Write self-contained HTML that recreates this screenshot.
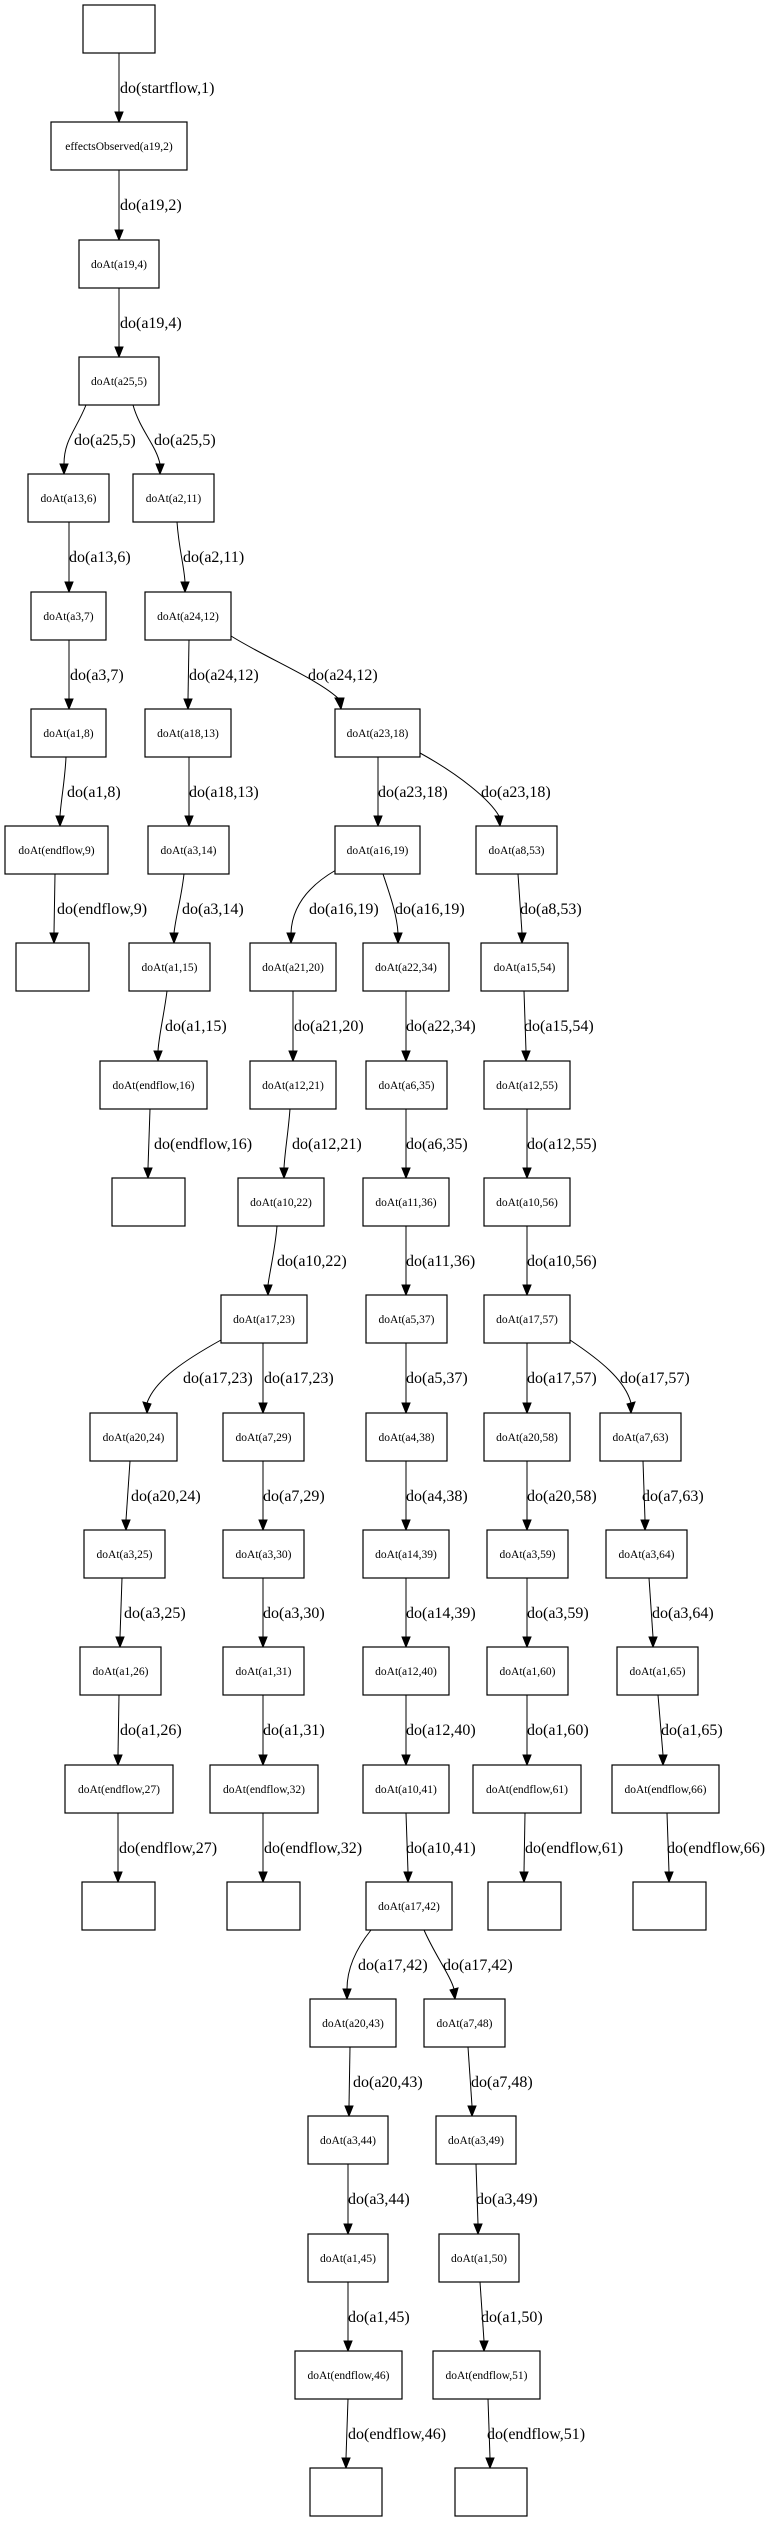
<!DOCTYPE html>
<html><head><meta charset="utf-8"><style>
html,body{margin:0;padding:0;background:#fff;}
svg{display:block;}
.n rect{fill:#fff;stroke:#000;stroke-width:1.2;}
.n text{font-family:"Liberation Serif",serif;font-size:11.5px;text-anchor:middle;fill:#000;}
.e path{fill:none;stroke:#000;stroke-width:1;}
.e polygon{fill:#000;stroke:#000;}
.l text{font-family:"Liberation Serif",serif;font-size:16px;fill:#000;}
</style></head><body>
<svg width="778" height="2522" viewBox="0 0 778 2522" xmlns="http://www.w3.org/2000/svg">
<g class="e">
<path d="M119 53 L119 112"/><polygon points="115,112 123,112 119,122"/>
<path d="M119 170 L119 230"/><polygon points="115,230 123,230 119,240"/>
<path d="M119 288 L119 347"/><polygon points="115,347 123,347 119,357"/>
<path d="M86 405 C76 430 64 440 64 464"/><polygon points="60,464 68,464 64,474"/>
<path d="M133 405 C140 430 156 445 160 464"/><polygon points="156,464 164,464 160,474"/>
<path d="M69 522 L69 582"/><polygon points="65,582 73,582 69,592"/>
<path d="M177 522 C179 550 184 565 185 582"/><polygon points="181,582 189,582 185,592"/>
<path d="M69 640 L69 699"/><polygon points="65,699 73,699 69,709"/>
<path d="M189 640 L188 699"/><polygon points="184,699 192,699 188,709"/>
<path d="M231 636 C270 660 320 680 340 700"/><polygon points="335,698 344,698 341,709"/>
<path d="M66 757 C65 780 61 800 60 816"/><polygon points="56,816 64,816 60,826"/>
<path d="M189 757 L189 816"/><polygon points="185,816 193,816 189,826"/>
<path d="M378 757 L378 816"/><polygon points="374,816 382,816 378,826"/>
<path d="M420 753 C460 775 490 800 499 816"/><polygon points="495,816 503,816 500,826"/>
<path d="M55 874 L54 933"/><polygon points="50,933 58,933 54,943"/>
<path d="M184 874 C181 900 176 915 174 933"/><polygon points="170,933 178,933 174,943"/>
<path d="M336 870 C310 885 292 905 291 933"/><polygon points="287,933 295,933 291,943"/>
<path d="M383 874 C390 895 397 915 398 933"/><polygon points="394,933 402,933 398,943"/>
<path d="M518 874 L522 933"/><polygon points="518,933 526,933 522,943"/>
<path d="M167 991 C164 1015 159 1035 158 1051"/><polygon points="154,1051 162,1051 158,1061"/>
<path d="M293 991 L293 1051"/><polygon points="289,1051 297,1051 293,1061"/>
<path d="M406 991 L406 1051"/><polygon points="402,1051 410,1051 406,1061"/>
<path d="M524 991 L526 1051"/><polygon points="522,1051 530,1051 526,1061"/>
<path d="M150 1109 L148 1168"/><polygon points="144,1168 152,1168 148,1178"/>
<path d="M290 1109 C288 1135 285 1150 284 1168"/><polygon points="280,1168 288,1168 284,1178"/>
<path d="M406 1109 L406 1168"/><polygon points="402,1168 410,1168 406,1178"/>
<path d="M527 1109 L527 1168"/><polygon points="523,1168 531,1168 527,1178"/>
<path d="M277 1226 C275 1250 270 1270 268 1285"/><polygon points="264,1285 272,1285 268,1295"/>
<path d="M406 1226 L406 1285"/><polygon points="402,1285 410,1285 406,1295"/>
<path d="M527 1226 L527 1285"/><polygon points="523,1285 531,1285 527,1295"/>
<path d="M221 1340 C185 1360 155 1380 147 1403"/><polygon points="143,1402 151,1404 147,1413"/>
<path d="M263 1343 L263 1403"/><polygon points="259,1403 267,1403 263,1413"/>
<path d="M406 1343 L406 1403"/><polygon points="402,1403 410,1403 406,1413"/>
<path d="M527 1343 L527 1403"/><polygon points="523,1403 531,1403 527,1413"/>
<path d="M570 1340 C600 1360 625 1380 631 1403"/><polygon points="627,1404 635,1402 631,1413"/>
<path d="M130 1461 L126 1520"/><polygon points="122,1520 130,1520 126,1530"/>
<path d="M263 1461 L263 1520"/><polygon points="259,1520 267,1520 263,1530"/>
<path d="M406 1461 L406 1520"/><polygon points="402,1520 410,1520 406,1530"/>
<path d="M527 1461 L527 1520"/><polygon points="523,1520 531,1520 527,1530"/>
<path d="M643 1461 L645 1520"/><polygon points="641,1520 649,1520 645,1530"/>
<path d="M122 1578 L120 1637"/><polygon points="116,1637 124,1637 120,1647"/>
<path d="M263 1578 L263 1637"/><polygon points="259,1637 267,1637 263,1647"/>
<path d="M406 1578 L406 1637"/><polygon points="402,1637 410,1637 406,1647"/>
<path d="M527 1578 L527 1637"/><polygon points="523,1637 531,1637 527,1647"/>
<path d="M649 1578 L653 1637"/><polygon points="649,1637 657,1637 653,1647"/>
<path d="M119 1695 L118 1755"/><polygon points="114,1755 122,1755 118,1765"/>
<path d="M263 1695 L263 1755"/><polygon points="259,1755 267,1755 263,1765"/>
<path d="M406 1695 L406 1755"/><polygon points="402,1755 410,1755 406,1765"/>
<path d="M527 1695 L527 1755"/><polygon points="523,1755 531,1755 527,1765"/>
<path d="M658 1695 L663 1755"/><polygon points="659,1755 667,1755 663,1765"/>
<path d="M118 1813 L118 1872"/><polygon points="114,1872 122,1872 118,1882"/>
<path d="M263 1813 L263 1872"/><polygon points="259,1872 267,1872 263,1882"/>
<path d="M406 1813 L408 1872"/><polygon points="404,1872 412,1872 408,1882"/>
<path d="M525 1813 L524 1872"/><polygon points="520,1872 528,1872 524,1882"/>
<path d="M667 1813 L669 1872"/><polygon points="665,1872 673,1872 669,1882"/>
<path d="M371 1930 C355 1950 347 1970 347 1989"/><polygon points="343,1989 351,1989 347,1999"/>
<path d="M424 1930 C435 1955 450 1975 454 1989"/><polygon points="450,1990 458,1988 455,1999"/>
<path d="M350 2047 L349 2106"/><polygon points="345,2106 353,2106 349,2116"/>
<path d="M468 2047 L472 2106"/><polygon points="468,2106 476,2106 472,2116"/>
<path d="M348 2164 L348 2224"/><polygon points="344,2224 352,2224 348,2234"/>
<path d="M476 2164 L478 2224"/><polygon points="474,2224 482,2224 478,2234"/>
<path d="M348 2282 L348 2341"/><polygon points="344,2341 352,2341 348,2351"/>
<path d="M480 2282 L484 2341"/><polygon points="480,2341 488,2341 484,2351"/>
<path d="M348 2399 L346 2458"/><polygon points="342,2458 350,2458 346,2468"/>
<path d="M488 2399 L490 2458"/><polygon points="486,2458 494,2458 490,2468"/>
</g>
<g class="l">
<text x="120" y="93">do(startflow,1)</text>
<text x="120" y="210">do(a19,2)</text>
<text x="120" y="328">do(a19,4)</text>
<text x="74" y="445">do(a25,5)</text><text x="154" y="445">do(a25,5)</text>
<text x="69" y="562">do(a13,6)</text><text x="183" y="562">do(a2,11)</text>
<text x="70" y="680">do(a3,7)</text><text x="189" y="680">do(a24,12)</text><text x="308" y="680">do(a24,12)</text>
<text x="67" y="797">do(a1,8)</text><text x="189" y="797">do(a18,13)</text><text x="378" y="797">do(a23,18)</text><text x="481" y="797">do(a23,18)</text>
<text x="57" y="914">do(endflow,9)</text><text x="182" y="914">do(a3,14)</text><text x="309" y="914">do(a16,19)</text><text x="395" y="914">do(a16,19)</text><text x="520" y="914">do(a8,53)</text>
<text x="165" y="1031">do(a1,15)</text><text x="294" y="1031">do(a21,20)</text><text x="406" y="1031">do(a22,34)</text><text x="524" y="1031">do(a15,54)</text>
<text x="154" y="1149">do(endflow,16)</text><text x="292" y="1149">do(a12,21)</text><text x="406" y="1149">do(a6,35)</text><text x="527" y="1149">do(a12,55)</text>
<text x="277" y="1266">do(a10,22)</text><text x="406" y="1266">do(a11,36)</text><text x="527" y="1266">do(a10,56)</text>
<text x="183" y="1383">do(a17,23)</text><text x="264" y="1383">do(a17,23)</text><text x="406" y="1383">do(a5,37)</text><text x="527" y="1383">do(a17,57)</text><text x="620" y="1383">do(a17,57)</text>
<text x="131" y="1501">do(a20,24)</text><text x="263" y="1501">do(a7,29)</text><text x="406" y="1501">do(a4,38)</text><text x="527" y="1501">do(a20,58)</text><text x="642" y="1501">do(a7,63)</text>
<text x="124" y="1618">do(a3,25)</text><text x="263" y="1618">do(a3,30)</text><text x="406" y="1618">do(a14,39)</text><text x="527" y="1618">do(a3,59)</text><text x="652" y="1618">do(a3,64)</text>
<text x="120" y="1735">do(a1,26)</text><text x="263" y="1735">do(a1,31)</text><text x="406" y="1735">do(a12,40)</text><text x="527" y="1735">do(a1,60)</text><text x="661" y="1735">do(a1,65)</text>
<text x="119" y="1853">do(endflow,27)</text><text x="264" y="1853">do(endflow,32)</text><text x="406" y="1853">do(a10,41)</text><text x="525" y="1853">do(endflow,61)</text><text x="667" y="1853">do(endflow,66)</text>
<text x="358" y="1970">do(a17,42)</text><text x="443" y="1970">do(a17,42)</text>
<text x="353" y="2087">do(a20,43)</text><text x="471" y="2087">do(a7,48)</text>
<text x="348" y="2204">do(a3,44)</text><text x="476" y="2204">do(a3,49)</text>
<text x="348" y="2322">do(a1,45)</text><text x="481" y="2322">do(a1,50)</text>
<text x="348" y="2439">do(endflow,46)</text><text x="487" y="2439">do(endflow,51)</text>
</g>
<g class="n">
<rect x="83" y="5" width="72" height="48"/>
<rect x="51" y="122" width="136" height="48"/><text x="119" y="150">effectsObserved(a19,2)</text>
<rect x="79" y="240" width="80" height="48"/><text x="119" y="268">doAt(a19,4)</text>
<rect x="79" y="357" width="80" height="48"/><text x="119" y="385">doAt(a25,5)</text>
<rect x="28" y="474" width="81" height="48"/><text x="68.5" y="502">doAt(a13,6)</text>
<rect x="133" y="474" width="81" height="48"/><text x="173.5" y="502">doAt(a2,11)</text>
<rect x="31" y="592" width="75" height="48"/><text x="68.5" y="620">doAt(a3,7)</text>
<rect x="145" y="592" width="86" height="48"/><text x="188" y="620">doAt(a24,12)</text>
<rect x="31" y="709" width="75" height="48"/><text x="68.5" y="737">doAt(a1,8)</text>
<rect x="145" y="709" width="86" height="48"/><text x="188" y="737">doAt(a18,13)</text>
<rect x="335" y="709" width="85" height="48"/><text x="377.5" y="737">doAt(a23,18)</text>
<rect x="5" y="826" width="103" height="48"/><text x="56.5" y="854">doAt(endflow,9)</text>
<rect x="148" y="826" width="81" height="48"/><text x="188.5" y="854">doAt(a3,14)</text>
<rect x="335" y="826" width="85" height="48"/><text x="377.5" y="854">doAt(a16,19)</text>
<rect x="476" y="826" width="81" height="48"/><text x="516.5" y="854">doAt(a8,53)</text>
<rect x="16" y="943" width="73" height="48"/>
<rect x="129" y="943" width="81" height="48"/><text x="169.5" y="971">doAt(a1,15)</text>
<rect x="250" y="943" width="86" height="48"/><text x="293" y="971">doAt(a21,20)</text>
<rect x="363" y="943" width="86" height="48"/><text x="406" y="971">doAt(a22,34)</text>
<rect x="481" y="943" width="87" height="48"/><text x="524.5" y="971">doAt(a15,54)</text>
<rect x="100" y="1061" width="107" height="48"/><text x="153.5" y="1089">doAt(endflow,16)</text>
<rect x="250" y="1061" width="86" height="48"/><text x="293" y="1089">doAt(a12,21)</text>
<rect x="366" y="1061" width="81" height="48"/><text x="406.5" y="1089">doAt(a6,35)</text>
<rect x="484" y="1061" width="86" height="48"/><text x="527" y="1089">doAt(a12,55)</text>
<rect x="112" y="1178" width="73" height="48"/>
<rect x="238" y="1178" width="86" height="48"/><text x="281" y="1206">doAt(a10,22)</text>
<rect x="363" y="1178" width="86" height="48"/><text x="406" y="1206">doAt(a11,36)</text>
<rect x="484" y="1178" width="86" height="48"/><text x="527" y="1206">doAt(a10,56)</text>
<rect x="221" y="1295" width="86" height="48"/><text x="264" y="1323">doAt(a17,23)</text>
<rect x="366" y="1295" width="81" height="48"/><text x="406.5" y="1323">doAt(a5,37)</text>
<rect x="484" y="1295" width="86" height="48"/><text x="527" y="1323">doAt(a17,57)</text>
<rect x="90" y="1413" width="87" height="48"/><text x="133.5" y="1441">doAt(a20,24)</text>
<rect x="223" y="1413" width="81" height="48"/><text x="263.5" y="1441">doAt(a7,29)</text>
<rect x="366" y="1413" width="81" height="48"/><text x="406.5" y="1441">doAt(a4,38)</text>
<rect x="484" y="1413" width="86" height="48"/><text x="527" y="1441">doAt(a20,58)</text>
<rect x="600" y="1413" width="81" height="48"/><text x="640.5" y="1441">doAt(a7,63)</text>
<rect x="84" y="1530" width="81" height="48"/><text x="124.5" y="1558">doAt(a3,25)</text>
<rect x="223" y="1530" width="81" height="48"/><text x="263.5" y="1558">doAt(a3,30)</text>
<rect x="363" y="1530" width="86" height="48"/><text x="406" y="1558">doAt(a14,39)</text>
<rect x="487" y="1530" width="81" height="48"/><text x="527.5" y="1558">doAt(a3,59)</text>
<rect x="606" y="1530" width="81" height="48"/><text x="646.5" y="1558">doAt(a3,64)</text>
<rect x="80" y="1647" width="81" height="48"/><text x="120.5" y="1675">doAt(a1,26)</text>
<rect x="223" y="1647" width="81" height="48"/><text x="263.5" y="1675">doAt(a1,31)</text>
<rect x="363" y="1647" width="86" height="48"/><text x="406" y="1675">doAt(a12,40)</text>
<rect x="487" y="1647" width="81" height="48"/><text x="527.5" y="1675">doAt(a1,60)</text>
<rect x="617" y="1647" width="81" height="48"/><text x="657.5" y="1675">doAt(a1,65)</text>
<rect x="65" y="1765" width="108" height="48"/><text x="119" y="1793">doAt(endflow,27)</text>
<rect x="210" y="1765" width="108" height="48"/><text x="264" y="1793">doAt(endflow,32)</text>
<rect x="363" y="1765" width="86" height="48"/><text x="406" y="1793">doAt(a10,41)</text>
<rect x="473" y="1765" width="108" height="48"/><text x="527" y="1793">doAt(endflow,61)</text>
<rect x="612" y="1765" width="107" height="48"/><text x="665.5" y="1793">doAt(endflow,66)</text>
<rect x="82" y="1882" width="73" height="48"/>
<rect x="227" y="1882" width="73" height="48"/>
<rect x="366" y="1882" width="86" height="48"/><text x="409" y="1910">doAt(a17,42)</text>
<rect x="488" y="1882" width="73" height="48"/>
<rect x="633" y="1882" width="73" height="48"/>
<rect x="310" y="1999" width="86" height="48"/><text x="353" y="2027">doAt(a20,43)</text>
<rect x="424" y="1999" width="81" height="48"/><text x="464.5" y="2027">doAt(a7,48)</text>
<rect x="308" y="2116" width="80" height="48"/><text x="348" y="2144">doAt(a3,44)</text>
<rect x="436" y="2116" width="80" height="48"/><text x="476" y="2144">doAt(a3,49)</text>
<rect x="308" y="2234" width="80" height="48"/><text x="348" y="2262">doAt(a1,45)</text>
<rect x="439" y="2234" width="80" height="48"/><text x="479" y="2262">doAt(a1,50)</text>
<rect x="295" y="2351" width="107" height="48"/><text x="348.5" y="2379">doAt(endflow,46)</text>
<rect x="433" y="2351" width="107" height="48"/><text x="486.5" y="2379">doAt(endflow,51)</text>
<rect x="310" y="2468" width="72" height="48"/>
<rect x="455" y="2468" width="72" height="48"/>
</g>
</svg>
</body></html>
